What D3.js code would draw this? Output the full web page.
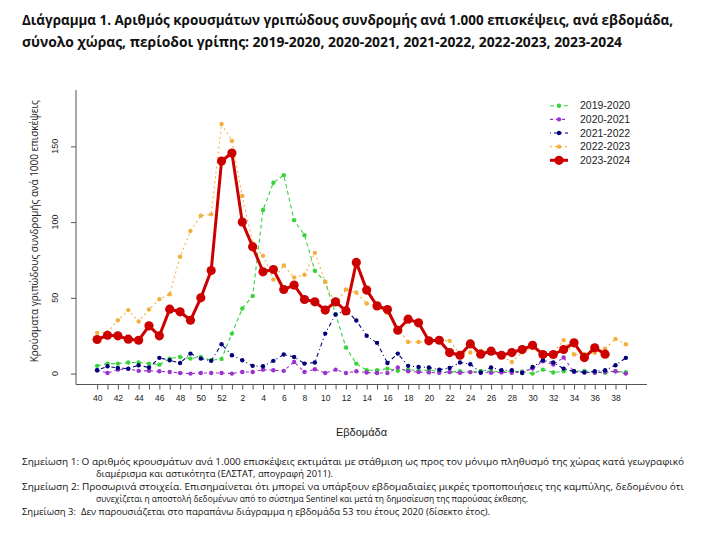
<!DOCTYPE html>
<html>
<head>
<meta charset="utf-8">
<script src="https://cdn.jsdelivr.net/npm/d3@7"></script>
<style>
  body { margin: 0; background: #fff; }
  svg { display: block; }
</style>
</head>
<body>
<div id="chart"></div>
<script>
// Weeks 40..52 then 1..39
const weeks = [40, 41, 42, 43, 44, 45, 46, 47, 48, 49, 50, 51, 52,
  1, 2, 3, 4, 5, 6, 7, 8, 9, 10, 11, 12, 13, 14, 15, 16, 17, 18, 19, 20,
  21, 22, 23, 24, 25, 26, 27, 28, 29, 30, 31, 32, 33, 34, 35, 36, 37, 38, 39]

const s2019 = [5.1, 6.6, 6.6, 7.3, 7.3, 6.6, 5.9, 9.9, 11, 9.9, 11, 8.8, 9.7,
  26.4, 43, 51.3, 108, 126, 131, 101.3, 91.4, 67.9, 60.6, 39.2, 17.2, 6.6, 2.2, 2.2, 3.3, 1.8, 2.5, 2,
  2.2, 1.5, 1, 1.5, 1, 1.8, 1.5, 1.2, 1.5, 1.4, 0, 2.6, 0.7, 1.5, 1.5, 1.8, 0.8, 0.5, 1.5, 1]
const s2020 = [2.2, 0.4, 2.6, 3.1, 1.8, 1.8, 1.5, 1.1, 0.4, 0, 0.4, 0.4, 0.4,
  0, 1.1, 1.1, 2.6, 2.2, 1.8, 7.7, 1.1, 2.9, 0.4, 2.6, 0.4, 1.5, 0.7, 0.4, 0.4, 4, 1.5, 1,
  0.8, 0.5, 1, 0.5, 1, 0.6, 0.5, 0.8, 0.6, 1, 3.3, 8.1, 6, 10.6, 1.1, 1, 0.5, 1.2, 1.5, 0]
const s2021 = [2.2, 4.8, 3.7, 3.3, 5.5, 4, 10.4, 8.8, 7, 13.2, 9.9, 8.4, 19.4,
  12.1, 8.8, 5.1, 4.8, 8.4, 12.6, 11, 6.6, 7.3, 26.4, 39, 42, 35, 25, 20.3, 7, 13.2, 5.1, 4.4,
  4, 2.6, 3.7, 7.3, 6.2, 0.7, 4, 2.2, 2.2, 0.4, 4.4, 8.8, 7.3, 3.3, 1.5, 0.7, 1.5, 2.2, 5.5, 10.4]
const s2022 = [26.9, 27.1, 35.2, 41.9, 34.4, 42.3, 49.1, 52.4, 77.1, 94.1, 104.2, 105.1, 164.8,
  153.5, 117.2, 86, 77.8, 62.1, 71.4, 63.4, 65.2, 79.7, 60.6, 45.8, 55.5, 53.5, 46.3, 44.7, 40, 30, 20.9, 20.9,
  21, 22, 21.6, 13, 13.9, 15, 14.3, 12, 7.7, 14, 17, 12, 14, 22, 12.6, 13, 13.7, 16.5, 22.9, 19.4]
const s2023 = [22.5, 25.3, 24.9, 22.7, 22, 31.5, 24.9, 42.5, 40.8, 35.2, 50, 68, 140.3,
  145.6, 100, 83.7, 67.2, 68.7, 55.5, 58.4, 48.9, 47.4, 41.9, 47.4, 41.4, 73.4, 55.1, 44.7, 42.3, 28.6, 35.9, 33.5,
  21.6, 22, 13.9, 12.1, 19.6, 12.8, 14.8, 12.1, 13.9, 15.9, 18.7, 12.6, 12.6, 15.9, 20.3, 10.6, 17, 12.8, null, null]

const seasons = ['2019-2020', '2020-2021', '2021-2022', '2022-2023', '2023-2024']
const yTicks = [0, 50, 100, 150]

const titleLines = [
  'Διάγραμμα 1. Αριθμός κρουσμάτων γριπώδους συνδρομής ανά 1.000 επισκέψεις, ανά εβδομάδα,',
  'σύνολο χώρας, περίοδοι γρίπης: 2019-2020, 2020-2021, 2021-2022, 2022-2023, 2023-2024'
]
const noteLines = [
  'Σημείωση 1: Ο αριθμός κρουσμάτων ανά 1.000 επισκέψεις εκτιμάται με στάθμιση ως προς τον μόνιμο πληθυσμό της χώρας κατά γεωγραφικό',
  'διαμέρισμα και αστικότητα (ΕΛΣΤΑΤ, απογραφή 2011).',
  'Σημείωση 2: Προσωρινά στοιχεία. Επισημαίνεται ότι μπορεί να υπάρξουν εβδομαδιαίες μικρές τροποποιήσεις της καμπύλης, δεδομένου ότι',
  'συνεχίζεται η αποστολή δεδομένων από το σύστημα Sentinel και μετά τη δημοσίευση της παρούσας έκθεσης.',
  'Σημείωση 3:  Δεν παρουσιάζεται στο παραπάνω διάγραμμα η εβδομάδα 53 του έτους 2020 (δίσεκτο έτος).'
]

// Series styling
const series = [
  { name: seasons[0], values: s2019, color: '#3ad23a', dash: '4,3', width: 1.1, r: 2.2 },
  { name: seasons[1], values: s2020, color: '#9a32cd', dash: '3,3', width: 1.1, r: 2.2 },
  { name: seasons[2], values: s2021, color: '#00007a', dash: '1,3,4,3', width: 1.1, r: 2.2 },
  { name: seasons[3], values: s2022, color: '#f4b03e', dash: '2,3', width: 1.1, r: 2.2 },
  { name: seasons[4], values: s2023, color: '#cd0000', dash: null, width: 3, r: 4.6 }
]

const width = 703
const height = 535
const plot = { left: 76, right: 647, top: 90, bottom: 384.5 }

const svg = d3.select('#chart')
  .append('svg')
  .attr('width', width)
  .attr('height', height)

// Title
svg.append('g')
  .selectAll('text')
  .data(titleLines)
  .join('text')
  .attr('x', 22)
  .attr('y', (d, i) => 25 + i * 21.5)
  .attr('font-family', '"Open Sans", "Noto Sans", sans-serif')
  .attr('font-weight', 'bold')
  .attr('font-size', 13.4)
  .attr('fill', '#111')
  .attr('textLength', (d, i) => i === 0 ? 651 : 600)
  .attr('lengthAdjust', 'spacingAndGlyphs')
  .text(d => d)

// Scales
const x = d3.scalePoint()
  .domain(weeks)
  .range([plot.left, plot.right])
  .padding(2.04)

const y = d3.scaleLinear()
  .domain([-7.2, 187.2])
  .range([plot.bottom, plot.top])

const axisColor = '#555'

// Axis lines (L-shaped box)
svg.append('path')
  .attr('d', `M${plot.left},${plot.top}V${plot.bottom}H${plot.right}`)
  .attr('fill', 'none')
  .attr('stroke', axisColor)
  .attr('stroke-width', 1)

// Bottom axis - every week ticked, every other labelled
const xAxis = svg.append('g')
  .attr('transform', `translate(0, ${plot.bottom})`)
  .call(d3.axisBottom(x)
    .tickSize(5)
    .tickPadding(5)
    .tickFormat((d, i) => i % 2 === 0 ? d : ''))
xAxis.select('.domain').remove()
xAxis.selectAll('line').attr('stroke', axisColor)
xAxis.selectAll('text')
  .attr('font-family', '"Liberation Sans", Arial, sans-serif')
  .attr('font-size', 8.5)
  .attr('fill', '#222')

// Left axis - rotated labels like R
const yAxis = svg.append('g')
  .attr('transform', `translate(${plot.left}, 0)`)
  .call(d3.axisLeft(y).tickValues(yTicks).tickSize(5).tickFormat(''))
yAxis.select('.domain').remove()
yAxis.selectAll('line').attr('stroke', axisColor)
svg.append('g')
  .selectAll('text')
  .data(yTicks)
  .join('text')
  .attr('transform', d => `translate(${plot.left - 18}, ${y(d)}) rotate(-90)`)
  .attr('text-anchor', 'middle')
  .attr('font-family', '"Liberation Sans", Arial, sans-serif')
  .attr('font-size', 9)
  .attr('fill', '#222')
  .text(d => d)

// Axis titles
svg.append('text')
  .attr('x', (plot.left + plot.right) / 2)
  .attr('y', 436)
  .attr('text-anchor', 'middle')
  .attr('font-family', '"Liberation Sans", Arial, sans-serif')
  .attr('font-size', 11)
  .attr('fill', '#222')
  .text('Εβδομάδα')

svg.append('text')
  .attr('transform', `translate(38, ${(plot.top + plot.bottom) / 2 - 6}) rotate(-90)`)
  .attr('text-anchor', 'middle')
  .attr('font-family', '"Open Sans", "Noto Sans", sans-serif')
  .attr('font-size', 10)
  .attr('fill', '#222')
  .attr('textLength', 262)
  .attr('lengthAdjust', 'spacingAndGlyphs')
  .text('Κρούσματα γριπώδους συνδρομής ανά 1000 επισκέψεις')

// Lines and points
const line = d3.line()
  .defined(d => d != null)
  .x((d, i) => x(weeks[i]))
  .y(d => y(d))

const g = svg.append('g')
series.forEach(s => {
  g.append('path')
    .datum(s.values)
    .attr('fill', 'none')
    .attr('stroke', s.color)
    .attr('stroke-width', s.width)
    .attr('stroke-dasharray', s.dash)
    .attr('stroke-linejoin', 'round')
    .attr('d', line)
  g.append('g')
    .selectAll('circle')
    .data(s.values.map((v, i) => ({ v, w: weeks[i] })).filter(d => d.v != null))
    .join('circle')
    .attr('cx', d => x(d.w))
    .attr('cy', d => y(d.v))
    .attr('r', s.r)
    .attr('fill', s.color)
})

// Legend
const legend = svg.append('g')
  .attr('transform', 'translate(550, 105.7)')
const item = legend.selectAll('g')
  .data(series)
  .join('g')
  .attr('transform', (d, i) => `translate(0, ${i * 13.65})`)
item.append('line')
  .attr('x1', 0).attr('x2', 18)
  .attr('stroke', d => d.color)
  .attr('stroke-width', d => d.width)
  .attr('stroke-dasharray', d => d.dash)
item.append('circle')
  .attr('cx', 9)
  .attr('r', d => d.r)
  .attr('fill', d => d.color)
item.append('text')
  .attr('x', 30)
  .attr('dy', '0.35em')
  .attr('font-family', '"Liberation Sans", Arial, sans-serif')
  .attr('font-size', 10.5)
  .attr('fill', '#222')
  .text(d => d.name)

// Notes (justified lines stretched to the full width)
const noteX = [22, 96, 22, 96, 22]
const noteLen = [662, 237, 662, 432, 468]
svg.append('g')
  .selectAll('text')
  .data(noteLines)
  .join('text')
  .attr('x', (d, i) => noteX[i])
  .attr('y', (d, i) => 465 + i * 12.4)
  .attr('font-family', '"Open Sans", "Noto Sans", sans-serif')
  .attr('font-size', 9)
  .attr('fill', '#111')
  .style('white-space', 'pre')
  .attr('textLength', (d, i) => noteLen[i])
  .attr('lengthAdjust', 'spacingAndGlyphs')
  .text(d => d)
</script>
</body>
</html>
